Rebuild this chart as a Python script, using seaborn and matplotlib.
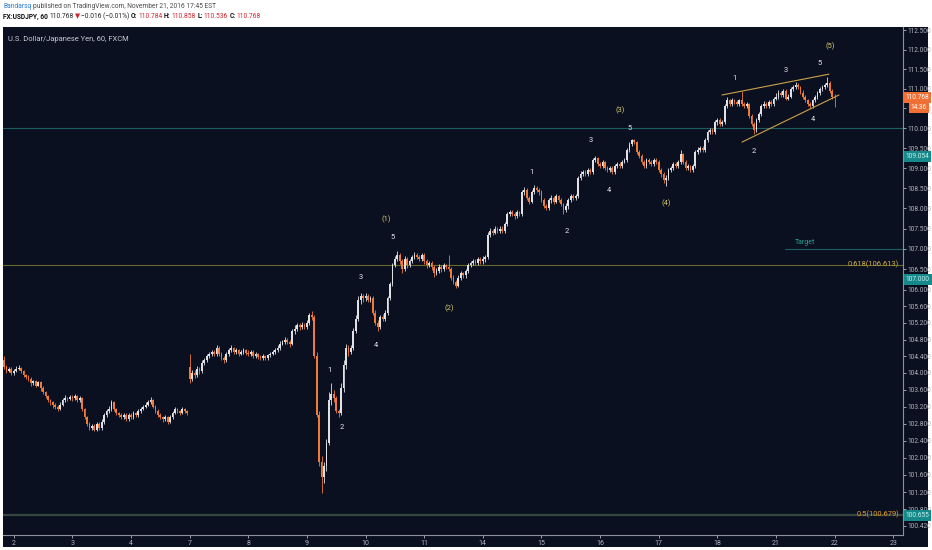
import numpy as np
import pandas as pd
import seaborn as sns
import matplotlib.pyplot as plt
from matplotlib.patches import Rectangle
from matplotlib.transforms import blended_transform_factory
from matplotlib.ticker import FixedLocator, FixedFormatter, NullLocator

# -------------------------------------------------
# data: USDJPY 60 min bars, sessions start 17:00 EST
# -------------------------------------------------
day_labels = ['2', '3', '4', '7', '8', '9', '10', '11', '14', '15', '16', '17', '18', '21', '22', '23']
first_open = 104.30
gap_opens = {76: 104.15}  # monday open after the weekend

closes = [
    104.15, 104.05, 104.10, 104.00,
    # 2
    104.05, 104.10, 104.12, 104.05, 103.95, 103.90, 103.85, 103.75, 103.80, 103.70, 103.78, 103.65,
    103.55, 103.45, 103.35, 103.30, 103.25, 103.20, 103.15, 103.25, 103.35, 103.40, 103.38, 103.42,
    # 3
    103.40, 103.45, 103.35, 103.40, 103.15, 102.95, 102.80, 102.70, 102.75, 102.65, 102.80, 102.70,
    102.85, 103.00, 103.10, 103.15, 103.30, 103.15, 103.05, 103.00, 102.95, 103.00, 102.90, 103.00,
    # 4
    102.95, 103.05, 103.00, 103.10, 103.15, 103.20, 103.25, 103.30, 103.35, 103.20, 103.10, 103.00,
    102.95, 102.90, 102.95, 102.85, 102.95, 103.05, 103.15, 103.10, 103.05, 103.15, 103.10, 103.05,
    # 7
    103.85, 104.00, 103.95, 104.10, 104.05, 104.25, 104.30, 104.40, 104.45, 104.50, 104.45, 104.60,
    104.45, 104.35, 104.30, 104.45, 104.55, 104.60, 104.50, 104.55, 104.45, 104.50, 104.55, 104.48,
    # 8
    104.45, 104.50, 104.40, 104.45, 104.38, 104.35, 104.40, 104.35, 104.42, 104.45, 104.50, 104.55,
    104.60, 104.70, 104.75, 104.80, 104.75, 104.70, 105.00, 105.05, 105.15, 105.10, 105.15, 105.10,
    # 9
    105.20, 105.40, 105.35, 104.40, 103.00, 101.90, 101.55, 101.80, 102.35, 103.35, 103.50, 103.40,
    103.10, 103.05, 103.65, 104.20, 104.60, 104.50, 104.60, 105.00, 105.30, 105.75, 105.85, 105.80,
    # 10
    105.85, 105.75, 105.80, 105.45, 105.20, 105.10, 105.35, 105.30, 105.45, 105.80, 106.15, 106.60,
    106.75, 106.85, 106.70, 106.50, 106.75, 106.60, 106.70, 106.80, 106.85, 106.80, 106.75, 106.85,
    # 11
    106.70, 106.60, 106.65, 106.55, 106.40, 106.45, 106.55, 106.50, 106.60, 106.55, 106.50, 106.30,
    106.20, 106.10, 106.30, 106.40, 106.35, 106.45, 106.60, 106.65, 106.70, 106.65, 106.75, 106.70,
    # 14
    106.75, 106.80, 107.35, 107.45, 107.40, 107.50, 107.45, 107.50, 107.45, 107.60, 107.85, 107.90,
    107.85, 107.80, 107.90, 107.85, 108.40, 108.45, 108.25, 108.15, 108.40, 108.50, 108.45, 108.40,
    # 15
    108.20, 108.05, 108.00, 108.20, 108.25, 108.15, 108.30, 108.20, 108.10, 107.95, 108.05, 108.20,
    108.30, 108.25, 108.30, 108.75, 108.85, 108.90, 108.85, 108.95, 108.90, 109.20, 109.25, 109.10,
    # 16
    109.05, 109.15, 109.00, 108.95, 109.00, 108.90, 109.05, 109.10, 109.05, 109.15, 109.20, 109.45,
    109.60, 109.70, 109.65, 109.40, 109.30, 109.15, 109.05, 109.20, 109.15, 109.10, 109.20, 109.15,
    # 17
    108.95, 108.85, 108.70, 108.75, 108.95, 109.00, 109.10, 109.05, 109.15, 109.35, 109.15, 109.00,
    109.05, 108.95, 109.05, 109.40, 109.45, 109.50, 109.45, 109.70, 109.90, 109.95, 109.90, 110.15,
    # 18
    110.20, 110.10, 110.15, 110.55, 110.70, 110.60, 110.70, 110.65, 110.60, 110.70, 110.60, 110.55,
    110.60, 110.30, 110.10, 109.95, 110.20, 110.35, 110.55, 110.60, 110.55, 110.65, 110.60, 110.75,
    # 21
    110.80, 110.90, 110.85, 110.95, 110.75, 110.80, 111.00, 111.05, 111.10, 111.05, 110.90, 110.80,
    110.70, 110.60, 110.55, 110.70, 110.80, 110.90, 111.00, 111.05, 111.10, 111.15, 110.95, 110.784,
    # 22
    110.768,
]

highs = [
    104.40, 104.20, 104.15, 104.14,
    104.10, 104.16, 104.18, 104.15, 104.08, 103.98, 103.95, 103.90, 103.84, 103.83, 103.82, 103.80,
    103.68, 103.58, 103.48, 103.38, 103.34, 103.28, 103.24, 103.30, 103.40, 103.48, 103.44, 103.47,
    103.48, 103.50, 103.48, 103.45, 103.42, 103.18, 102.98, 102.84, 102.80, 102.78, 102.85, 102.83,
    102.90, 103.05, 103.15, 103.22, 103.36, 103.33, 103.18, 103.08, 103.04, 103.05, 103.04, 103.05,
    103.05, 103.10, 103.08, 103.14, 103.20, 103.25, 103.30, 103.36, 103.42, 103.38, 103.24, 103.14,
    103.04, 102.99, 103.00, 102.98, 103.00, 103.10, 103.20, 103.18, 103.12, 103.20, 103.18, 103.12,
    104.45, 104.08, 104.06, 104.16, 104.14, 104.30, 104.36, 104.46, 104.50, 104.56, 104.54, 104.66,
    104.64, 104.50, 104.40, 104.50, 104.60, 104.66, 104.63, 104.60, 104.58, 104.54, 104.60, 104.58,
    104.54, 104.55, 104.54, 104.50, 104.48, 104.42, 104.45, 104.44, 104.46, 104.50, 104.54, 104.60,
    104.66, 104.76, 104.80, 104.86, 104.84, 104.78, 105.06, 105.14, 105.20, 105.20, 105.22, 105.20,
    105.26, 105.45, 105.48, 105.40, 104.50, 103.10, 102.05, 101.90, 102.45, 103.55, 103.75, 103.60,
    103.45, 103.15, 103.75, 104.30, 104.70, 104.68, 104.68, 105.08, 105.40, 105.85, 105.92, 105.90,
    105.92, 105.90, 105.86, 105.84, 105.50, 105.28, 105.40, 105.42, 105.50, 105.86, 106.20, 106.66,
    106.82, 106.95, 106.90, 106.76, 106.82, 106.80, 106.76, 106.86, 106.92, 106.90, 106.86, 106.90,
    106.90, 106.76, 106.70, 106.70, 106.60, 106.52, 106.62, 106.60, 106.66, 106.64, 106.85, 106.55,
    106.36, 106.24, 106.35, 106.46, 106.44, 106.50, 106.66, 106.70, 106.76, 106.74, 106.80, 106.80,
    106.82, 106.86, 107.42, 107.52, 107.50, 107.56, 107.54, 107.56, 107.55, 107.65, 107.90, 107.96,
    107.95, 107.90, 107.95, 107.94, 108.45, 108.52, 108.50, 108.30, 108.45, 108.58, 108.55, 108.50,
    108.45, 108.26, 108.10, 108.26, 108.32, 108.30, 108.36, 108.34, 108.25, 108.14, 108.12, 108.26,
    108.36, 108.35, 108.36, 108.80, 108.92, 108.96, 108.95, 109.00, 109.00, 109.25, 109.30, 109.28,
    109.16, 109.20, 109.18, 109.05, 109.06, 109.04, 109.10, 109.16, 109.14, 109.20, 109.26, 109.50,
    109.66, 109.74, 109.72, 109.68, 109.44, 109.34, 109.20, 109.26, 109.25, 109.20, 109.26, 109.24,
    109.20, 109.00, 108.90, 108.82, 109.00, 109.06, 109.15, 109.14, 109.20, 109.45, 109.38, 109.20,
    109.10, 109.08, 109.10, 109.45, 109.52, 109.56, 109.54, 109.75, 109.95, 110.00, 110.00, 110.20,
    110.26, 110.25, 110.20, 110.60, 110.78, 110.74, 110.76, 110.74, 110.70, 110.75, 110.95, 110.66,
    110.65, 110.64, 110.36, 110.15, 110.25, 110.40, 110.60, 110.68, 110.65, 110.70, 110.72, 110.80,
    110.88, 110.96, 110.94, 111.00, 110.98, 110.86, 111.05, 111.10, 111.16, 111.14, 111.08, 110.96,
    110.84, 110.74, 110.65, 110.75, 110.85, 110.95, 111.05, 111.10, 111.15, 111.30, 111.20, 111.00,
    110.858,
]

lows = [
    104.10, 104.00, 104.02, 103.96,
    103.96, 104.02, 104.06, 104.00, 103.90, 103.86, 103.80, 103.70, 103.72, 103.66, 103.68, 103.58,
    103.50, 103.40, 103.30, 103.24, 103.18, 103.14, 103.10, 103.12, 103.22, 103.30, 103.33, 103.35,
    103.34, 103.36, 103.30, 103.32, 103.10, 102.90, 102.75, 102.66, 102.66, 102.62, 102.62, 102.66,
    102.66, 102.80, 102.95, 103.05, 103.10, 103.10, 103.00, 102.95, 102.90, 102.92, 102.86, 102.86,
    102.90, 102.92, 102.96, 102.96, 103.06, 103.12, 103.16, 103.22, 103.26, 103.16, 103.06, 102.96,
    102.90, 102.85, 102.86, 102.80, 102.82, 102.92, 103.02, 103.06, 103.00, 103.02, 103.06, 103.00,
    103.75, 103.80, 103.88, 103.90, 103.98, 104.00, 104.20, 104.26, 104.36, 104.40, 104.40, 104.40,
    104.40, 104.30, 104.25, 104.26, 104.40, 104.50, 104.45, 104.46, 104.40, 104.42, 104.46, 104.44,
    104.40, 104.40, 104.35, 104.36, 104.33, 104.30, 104.32, 104.30, 104.32, 104.38, 104.42, 104.46,
    104.50, 104.56, 104.66, 104.70, 104.70, 104.62, 104.66, 104.94, 105.00, 105.04, 105.06, 105.05,
    105.06, 105.14, 105.28, 104.35, 102.95, 101.80, 101.19, 101.40, 101.70, 102.30, 103.25, 103.30,
    103.05, 102.95, 103.00, 103.55, 104.10, 104.40, 104.45, 104.55, 104.95, 105.25, 105.65, 105.70,
    105.72, 105.70, 105.70, 105.40, 105.15, 105.00, 105.05, 105.24, 105.25, 105.40, 105.75, 106.10,
    106.55, 106.70, 106.62, 106.42, 106.45, 106.52, 106.55, 106.65, 106.75, 106.74, 106.70, 106.70,
    106.64, 106.54, 106.55, 106.48, 106.32, 106.36, 106.40, 106.44, 106.45, 106.50, 106.45, 106.25,
    106.14, 106.05, 106.06, 106.25, 106.30, 106.30, 106.40, 106.56, 106.60, 106.60, 106.60, 106.64,
    106.62, 106.68, 106.75, 107.28, 107.34, 107.36, 107.40, 107.40, 107.40, 107.40, 107.55, 107.80,
    107.80, 107.74, 107.75, 107.80, 107.80, 108.32, 108.20, 108.10, 108.12, 108.35, 108.40, 108.34,
    108.15, 108.00, 107.95, 107.96, 108.14, 108.10, 108.12, 108.15, 108.05, 107.85, 107.90, 107.98,
    108.15, 108.20, 108.20, 108.25, 108.70, 108.80, 108.80, 108.80, 108.85, 108.85, 109.15, 109.05,
    109.00, 109.00, 108.96, 108.90, 108.90, 108.85, 108.86, 109.00, 109.00, 109.00, 109.12, 109.16,
    109.40, 109.56, 109.60, 109.36, 109.25, 109.10, 109.00, 109.00, 109.10, 109.05, 109.06, 109.10,
    108.90, 108.78, 108.62, 108.55, 108.70, 108.90, 108.95, 109.00, 109.00, 109.10, 109.10, 108.95,
    108.95, 108.90, 108.90, 109.00, 109.35, 109.40, 109.40, 109.40, 109.65, 109.85, 109.85, 109.85,
    110.08, 110.05, 110.05, 110.10, 110.50, 110.55, 110.56, 110.60, 110.55, 110.56, 110.55, 110.50,
    110.50, 110.25, 110.05, 109.85, 109.90, 110.15, 110.30, 110.50, 110.50, 110.50, 110.55, 110.55,
    110.70, 110.74, 110.80, 110.80, 110.70, 110.70, 110.76, 110.95, 111.00, 111.00, 110.86, 110.75,
    110.65, 110.55, 110.50, 110.50, 110.65, 110.75, 110.85, 110.95, 111.00, 111.05, 110.90, 110.74,
    110.536,
]

# price axis labels as printed on the chart (log scale)
price_ticks = [100.42, 100.8, 101.2, 101.6, 102.0, 102.4, 102.8, 103.2, 103.6, 104.0, 104.4, 104.8,
               105.2, 105.6, 106.0, 106.5, 107.0, 107.5, 108.0, 108.5, 109.0, 109.5, 110.0, 110.5,
               111.0, 111.5, 112.0, 112.5]

# drawings
level_110 = 110.0
target_level = 107.0
fib_618 = 106.613
fib_500 = 100.679

wave_text = ['1', '2', '3', '4', '5', '(1)', '(2)',
             '1', '2', '3', '4', '5', '(3)', '(4)',
             '1', '2', '3', '4', '5', '(5)']
wave_bar = [133.4, 138.4, 146.1, 152.3, 159.2, 156.4, 182.2,
            216.1, 230.5, 240.3, 247.6, 256.2, 252.1, 271.0,
            299.2, 307.0, 320.1, 331.1, 334.0, 338.1]
wave_price = [104.07, 102.70, 106.31, 104.65, 107.27, 107.73, 105.56,
              108.90, 107.42, 109.70, 108.43, 110.00, 110.46, 108.13,
              111.27, 109.42, 111.47, 110.21, 111.63, 112.09]

wedge_top_bar, wedge_top_price = [293.9, 337.7], [110.84, 111.37]
wedge_low_bar, wedge_low_price = [302.1, 341.8], [109.65, 110.84]

# -------------------------------------------------
n = min(len(closes), len(highs), len(lows))
opens = [first_open] + closes[:n - 1]
for k, v in gap_opens.items():
    opens[k] = v
df = pd.DataFrame({'o': opens[:n], 'h': highs[:n], 'l': lows[:n], 'c': closes[:n]})
df['bar'] = np.arange(n)
df['h'] = df[['h', 'o', 'c']].max(axis=1)
df['l'] = df[['l', 'o', 'c']].min(axis=1)
df['up'] = df['c'] >= df['o']

BG = '#0b1020'
UP = '#dfe1e7'
DOWN = '#f07a38'
AXC = '#b2b5be'
FS = 5.0

sns.set_theme(style='dark')
plt.rcParams['font.family'] = ['Liberation Sans Narrow', 'Roboto', 'DejaVu Sans']

fig = plt.figure(figsize=(9.32, 5.5), dpi=100, facecolor='white')
panel = Rectangle((3 / 932, 3 / 550), 925 / 932, 520 / 550, transform=fig.transFigure,
                  facecolor=BG, edgecolor='none', zorder=-5)
fig.patches.append(panel)
ax = fig.add_axes([3 / 932, 15 / 550, 900 / 932, 508 / 550])
ax.set_zorder(2)
ax.set_facecolor(BG)
ax.grid(False)

ax.set_yscale('log')
ax.set_ylim(100.21, 112.58)
ax.set_xlim(-0.4, 368.0)

colors = np.where(df['up'], UP, DOWN)
ax.vlines(df['bar'], df['l'], df['h'], colors=colors, lw=0.6, zorder=3)
body_lo = df[['o', 'c']].min(axis=1)
body_hi = df[['o', 'c']].max(axis=1)
ax.bar(df['bar'], np.maximum(body_hi - body_lo, 0.012), bottom=body_lo, width=0.72,
       color=colors, edgecolor='none', zorder=4)

# horizontal levels
ax.axhline(level_110, color='#1d5d60', lw=0.8, zorder=2)
ax.axhline(fib_618, color='#66682a', lw=0.8, zorder=2)
ax.axhline(fib_500, color='#34463f', lw=1.6, zorder=2)
ax.plot([319.7, 368.0], [target_level, target_level], color='#1d5d60', lw=0.8, zorder=2)
ax.text(327.9, 107.15, 'Target', color='#2a9d93', fontsize=FS, ha='center', va='center')

blend = blended_transform_factory(ax.transAxes, ax.transData)
ax.text(0.9955, fib_618, '0.618(106.613)', transform=blend, color='#d1b04a', fontsize=FS + 0.4,
        ha='right', va='center', zorder=5)
ax.text(0.9955, fib_500, '0.5(100.679)', transform=blend, color='#e09a2c', fontsize=FS + 0.4,
        ha='right', va='center', zorder=5)

# elliott wave counts
for t, b, p in zip(wave_text, wave_bar, wave_price):
    col = '#d9c96b' if t.startswith('(') else '#e8e8ea'
    ax.text(b, p, t, color=col, fontsize=FS + 0.4, ha='center', va='center', zorder=6)

ax.plot(wedge_top_bar, wedge_top_price, color='#c9a24a', lw=0.8, zorder=5)
ax.plot(wedge_low_bar, wedge_low_price, color='#c9a24a', lw=0.8, zorder=5)

# axes
ax.yaxis.tick_right()
ax.yaxis.set_major_locator(FixedLocator(price_ticks))
ax.yaxis.set_major_formatter(FixedFormatter([f'{t:.3f}' for t in price_ticks]))
ax.yaxis.set_minor_locator(NullLocator())
ax.set_xticks([4 + 24 * k for k in range(len(day_labels))])
ax.set_xticklabels(day_labels)
ax.tick_params(axis='y', which='major', right=True, left=False, length=2, width=0.6, pad=1.2,
               colors=AXC, labelsize=4.7)
ax.tick_params(axis='x', which='major', bottom=True, length=2, width=0.6, pad=1.5,
               colors=AXC, labelsize=FS)
for side in ['top', 'left']:
    ax.spines[side].set_visible(False)
for side in ['right', 'bottom']:
    ax.spines[side].set_visible(True)
    ax.spines[side].set_color('#8b909b')
    ax.spines[side].set_linewidth(0.8)

# price boxes on the scale
def price_box(y, txt, fc, tc, x=1.003, ha='left'):
    ax.text(x, y, txt, transform=blend, ha=ha, va='center', fontsize=4.7, color=tc, zorder=7,
            clip_on=False, bbox=dict(boxstyle='square,pad=0.3', fc=fc, ec='none'))

price_box(109.30, '109.054', '#168a8a', '#c9eeee')
price_box(106.26, '107.000', '#168a8a', '#c9eeee')
price_box(100.655, '100.655', '#168a8a', '#c9eeee')
price_box(110.768, '110.768', '#ef6f35', 'white')
price_box(110.51, '14:36', '#ef6f35', 'white', x=1.0265, ha='right')

ax.text(0.006, 0.975, 'U.S. Dollar/Japanese Yen, 60, FXCM', transform=ax.transAxes, color='#c9ccd3',
        fontsize=FS + 0.4, ha='left', va='center')

# header (white strip)
renderer = fig.canvas.get_renderer()

def write_row(pieces, x, y, size):
    for txt, col, weight in pieces:
        t = fig.text(x / 932, 1 - y / 550, txt, color=col, fontsize=size, fontweight=weight,
                     ha='left', va='center')
        x += t.get_window_extent(renderer=renderer).width + 1.3

write_row([('Bandarsq', '#2b7bd0', 'normal'),
           ('published on TradingView.com, November 21, 2016 17:45 EST', '#4b4b4b', 'normal')],
          3, 7, 4.8)
write_row([('FX:USDJPY, 60', '#111111', 'bold'),
           ('110.768', '#222222', 'normal'),
           ('\u25bc', '#d0262f', 'normal'),
           ('\u22120.016 (\u22120.01%)', '#222222', 'normal'),
           ('O:', '#111111', 'bold'), ('110.784', '#d0262f', 'normal'),
           ('H:', '#111111', 'bold'), ('110.858', '#d0262f', 'normal'),
           ('L:', '#111111', 'bold'), ('110.536', '#d0262f', 'normal'),
           ('C:', '#111111', 'bold'), ('110.768', '#d0262f', 'normal')],
          3, 16.5, 4.8)

fig.savefig('out.png', dpi=100, facecolor='white')
